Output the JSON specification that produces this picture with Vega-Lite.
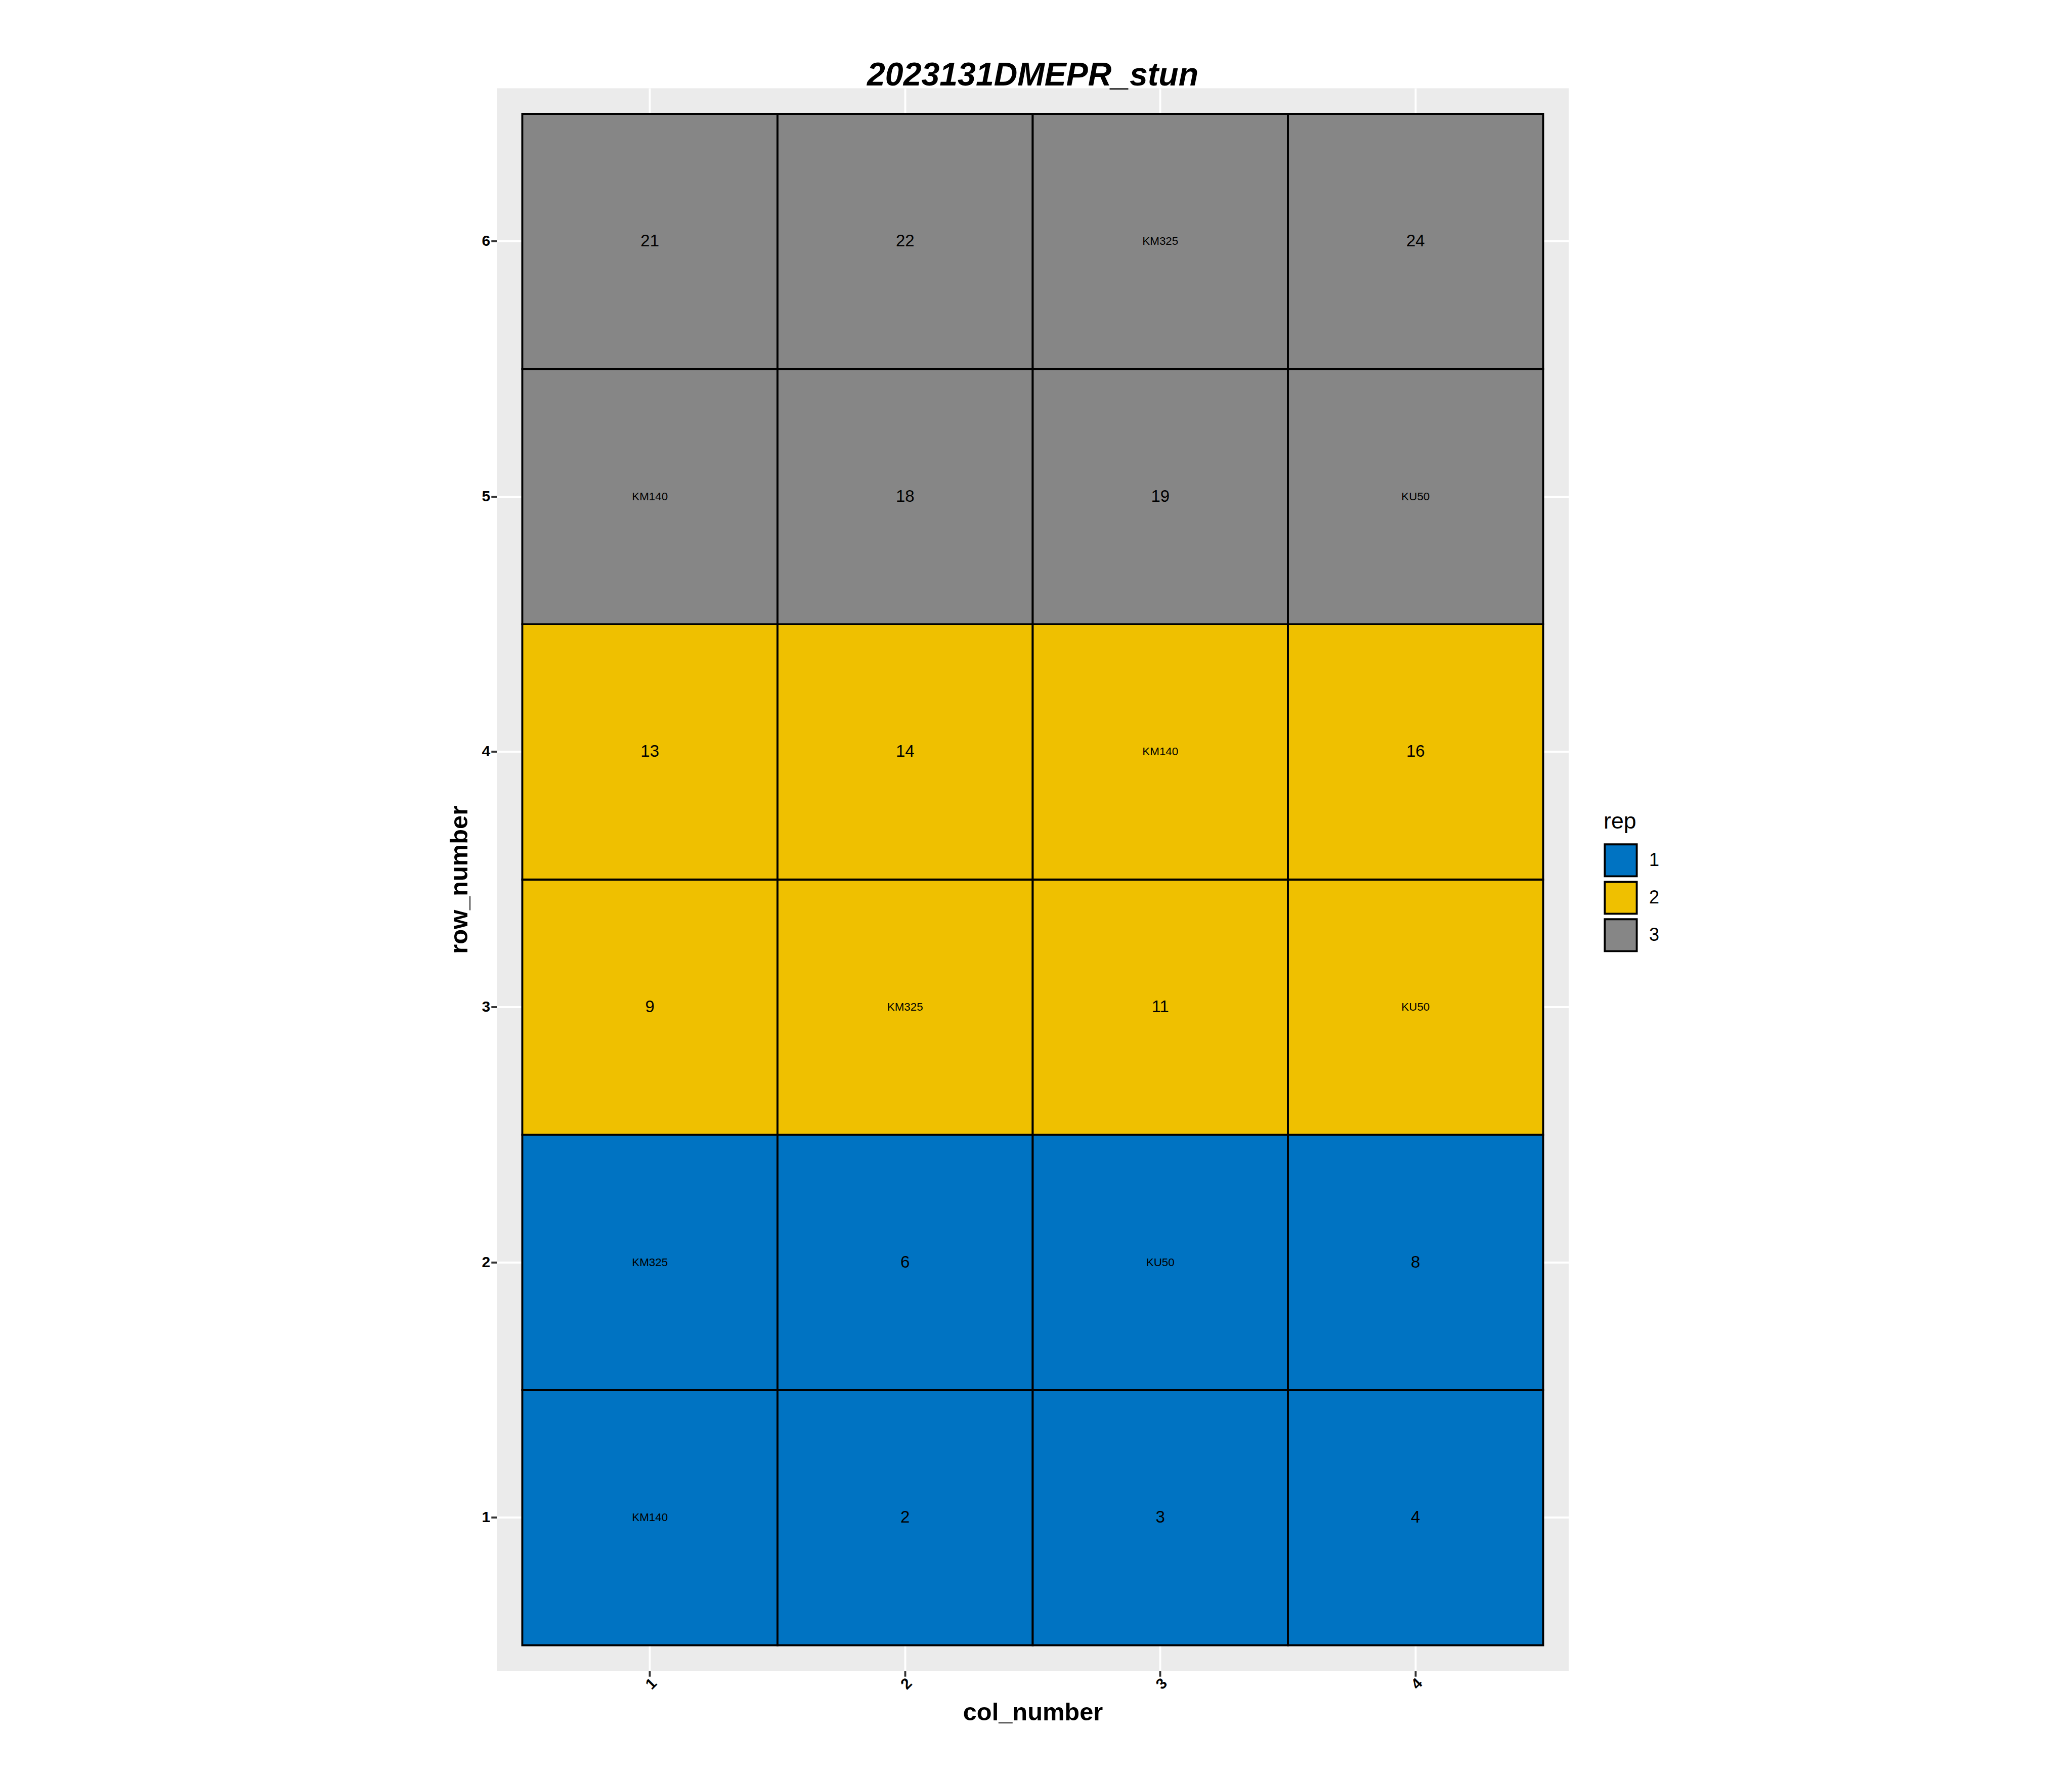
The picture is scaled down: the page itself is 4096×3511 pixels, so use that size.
{
  "$schema": "https://vega.github.io/schema/vega-lite/v6.json",
  "autosize": {"type": "none"},
  "padding": {"left": 982, "top": 174.5, "right": 995, "bottom": 208},
  "width": 2119,
  "height": 3128.5,
  "background": "white",
  "config": {
    "view": {"fill": "#EBEBEB", "stroke": null},
    "legend": {
      "orient": "none",
      "legendX": 2188,
      "legendY": 1428,
      "padding": 0,
      "titleFont": "Liberation Sans",
      "titleFontSize": 44.7,
      "titleFontWeight": "normal",
      "titleColor": "black",
      "titlePadding": 19.6,
      "labelFont": "Liberation Sans",
      "labelFontSize": 36,
      "labelColor": "black",
      "labelOffset": 22,
      "symbolType": "square",
      "symbolSize": 3994,
      "symbolStrokeColor": "black",
      "symbolStrokeWidth": 3.9,
      "symbolOpacity": 1,
      "rowPadding": -10.5
    }
  },
  "title": {
    "text": "2023131DMEPR_stun",
    "font": "Liberation Sans",
    "fontSize": 64.4,
    "fontWeight": "bold",
    "fontStyle": "italic",
    "color": "black",
    "anchor": "middle",
    "frame": "group",
    "baseline": "alphabetic",
    "offset": 6,
    "dy": 64.4
  },
  "data": {
    "values": [
      {"row_number": 1, "col_number": 1, "label": "KM140", "rep": 1},
      {"row_number": 1, "col_number": 2, "label": "2", "rep": 1},
      {"row_number": 1, "col_number": 3, "label": "3", "rep": 1},
      {"row_number": 1, "col_number": 4, "label": "4", "rep": 1},
      {"row_number": 2, "col_number": 1, "label": "KM325", "rep": 1},
      {"row_number": 2, "col_number": 2, "label": "6", "rep": 1},
      {"row_number": 2, "col_number": 3, "label": "KU50", "rep": 1},
      {"row_number": 2, "col_number": 4, "label": "8", "rep": 1},
      {"row_number": 3, "col_number": 1, "label": "9", "rep": 2},
      {"row_number": 3, "col_number": 2, "label": "KM325", "rep": 2},
      {"row_number": 3, "col_number": 3, "label": "11", "rep": 2},
      {"row_number": 3, "col_number": 4, "label": "KU50", "rep": 2},
      {"row_number": 4, "col_number": 1, "label": "13", "rep": 2},
      {"row_number": 4, "col_number": 2, "label": "14", "rep": 2},
      {"row_number": 4, "col_number": 3, "label": "KM140", "rep": 2},
      {"row_number": 4, "col_number": 4, "label": "16", "rep": 2},
      {"row_number": 5, "col_number": 1, "label": "KM140", "rep": 3},
      {"row_number": 5, "col_number": 2, "label": "18", "rep": 3},
      {"row_number": 5, "col_number": 3, "label": "19", "rep": 3},
      {"row_number": 5, "col_number": 4, "label": "KU50", "rep": 3},
      {"row_number": 6, "col_number": 1, "label": "21", "rep": 3},
      {"row_number": 6, "col_number": 2, "label": "22", "rep": 3},
      {"row_number": 6, "col_number": 3, "label": "KM325", "rep": 3},
      {"row_number": 6, "col_number": 4, "label": "24", "rep": 3}
    ]
  },
  "encoding": {
    "x": {
      "field": "col_number",
      "type": "ordinal",
      "scale": {"paddingInner": 0, "paddingOuter": 0.1},
      "axis": {
        "zindex": 0,
        "title": "col_number",
        "titleFont": "Liberation Sans",
        "titleFontSize": 48.8,
        "titleFontWeight": "bold",
        "titleColor": "black",
        "titleX": 1059.5,
        "titleY": 97,
        "titleBaseline": "alphabetic",
        "titleAlign": "center",
        "labelAngle": -45,
        "labelAlign": "center",
        "labelBaseline": "middle",
        "labelFont": "Liberation Sans",
        "labelFontSize": 30,
        "labelFontWeight": "bold",
        "labelColor": "black",
        "labelPadding": 14.5,
        "labelOffset": 3,
        "domain": false,
        "ticks": true,
        "tickColor": "#333333",
        "tickWidth": 3.9,
        "tickSize": 11.2,
        "grid": true,
        "gridColor": "white",
        "gridWidth": 3.9,
        "gridOpacity": 1,
        "bandPosition": 0.5
      }
    },
    "y": {
      "field": "row_number",
      "type": "ordinal",
      "sort": "descending",
      "scale": {"paddingInner": 0, "paddingOuter": 0.1},
      "axis": {
        "zindex": 0,
        "title": "row_number",
        "titleFont": "Liberation Sans",
        "titleFontSize": 48.8,
        "titleFontWeight": "bold",
        "titleColor": "black",
        "titleAngle": 270,
        "titleX": -59,
        "titleY": 1564.25,
        "titleBaseline": "alphabetic",
        "titleAlign": "center",
        "labelAngle": 0,
        "labelAlign": "right",
        "labelBaseline": "middle",
        "labelFont": "Liberation Sans",
        "labelFontSize": 30,
        "labelFontWeight": "bold",
        "labelColor": "black",
        "labelPadding": 2,
        "domain": false,
        "ticks": true,
        "tickColor": "#333333",
        "tickWidth": 3.9,
        "tickSize": 11.2,
        "grid": true,
        "gridColor": "white",
        "gridWidth": 3.9,
        "gridOpacity": 1,
        "bandPosition": 0.5
      }
    }
  },
  "layer": [
    {
      "mark": {"type": "rect", "stroke": "black", "strokeWidth": 3.9, "opacity": 1},
      "encoding": {
        "fill": {
          "field": "rep",
          "type": "nominal",
          "scale": {"domain": [1, 2, 3], "range": ["#0073C2", "#EFC000", "#868686"]},
          "legend": {"title": "rep"}
        }
      }
    },
    {
      "transform": [{"filter": "!test(/^K/, datum.label)"}],
      "mark": {"type": "text", "font": "Liberation Sans", "fontSize": 33, "color": "black", "align": "center", "baseline": "middle"},
      "encoding": {"text": {"field": "label", "type": "nominal"}}
    },
    {
      "transform": [{"filter": "test(/^K/, datum.label)"}],
      "mark": {"type": "text", "font": "Liberation Sans", "fontSize": 22.4, "color": "black", "align": "center", "baseline": "middle"},
      "encoding": {"text": {"field": "label", "type": "nominal"}}
    }
  ]
}
